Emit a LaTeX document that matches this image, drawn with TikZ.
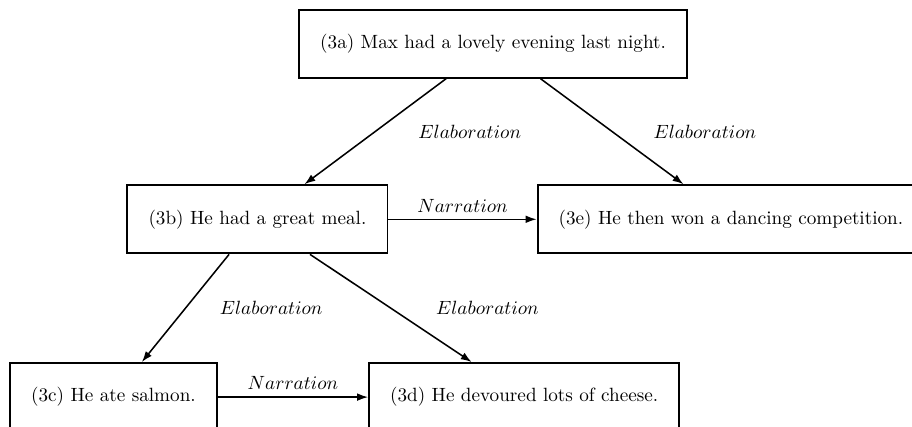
\documentclass[tikz,border=0pt]{standalone}
\usepackage{amsmath}
\usepackage{tikz}
\usetikzlibrary{positioning, calc, arrows.meta}

\begin{document}
\begin{tikzpicture}[
    sent/.style={draw, rectangle, line width=1pt, inner xsep=11pt, minimum height=1.25cm},
    rel/.style={-{Latex[length=2mm,width=1.4mm]}, thick},
]
    % 枠
    \useasboundingbox (0,0) rectangle (16.72,-7.81);

    % 文のノード
    \node[sent] (a) at (9.04,-0.80) {(3a) Max had a lovely evening last night.};
    \node[sent] (b) at (4.72,-4.02) {(3b) He had a great meal.};
    \node[sent] (e) at (13.40,-4.02) {(3e) He then won a dancing competition.};
    \node[sent] (c) at (2.08,-7.28) {(3c) He ate salmon.};
    \node[sent] (d) at (9.61,-7.28) {(3d) He devoured lots of cheese.};

    % 関係
    \draw[rel] (a) -- (b) node[midway, right=0.66cm] {$Elaboration$};
    \draw[rel] (a) -- (e) node[midway, right=0.63cm] {$Elaboration$};
    \draw[rel] (b) -- (c) node[midway, right=0.5cm] {$Elaboration$};
    \draw[rel] (b) -- (d) node[midway, right=0.70cm] {$Elaboration$};
    \draw[rel] (b) -- (e) node[midway, above] {$Narration$};
    \draw[rel] (c) -- (d) node[midway, above] {$Narration$};

\end{tikzpicture}
\end{document}
